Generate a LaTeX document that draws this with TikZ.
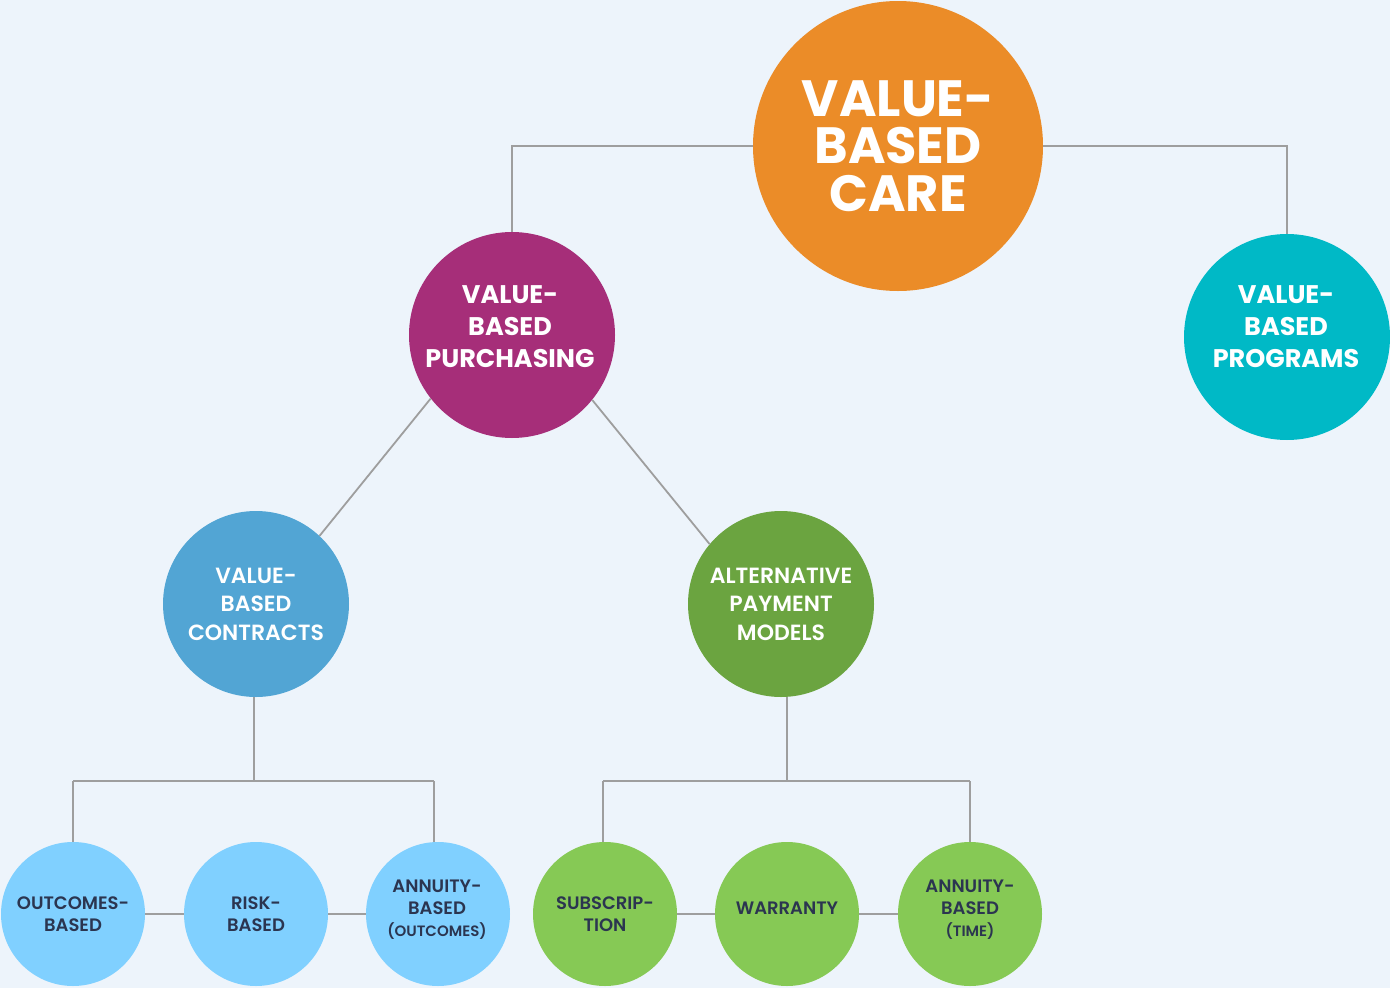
\documentclass[tikz,border=0pt]{standalone}
\usepackage{fontspec}
\setmainfont{Poppins}
\newfontfamily\semibold{Poppins SemiBold}
\begin{document}
\definecolor{bgcol}{HTML}{EDF4FB}
\definecolor{orangec}{HTML}{EB8C28}
\definecolor{purplec}{HTML}{A62E79}
\definecolor{tealc}{HTML}{00B9C6}
\definecolor{bluec}{HTML}{52A5D4}
\definecolor{greenc}{HTML}{6BA440}
\definecolor{lbluec}{HTML}{80D0FF}
\definecolor{lgreenc}{HTML}{86C955}
\definecolor{darktext}{HTML}{2B3550}
\definecolor{linec}{HTML}{9E9E9E}
\begin{tikzpicture}[x=1pt,y=-1pt,
  bubble/.style={circle,inner sep=0pt,align=center,font=\bfseries},
  caption/.style={inner sep=0pt,align=center},
  toplevel/.style={bubble,fill=orangec,minimum size=290pt,text=white,
    font=\bfseries\fontsize{51}{47.5}\selectfont},
  midlevel/.style={bubble,minimum size=206pt},
  midtext/.style={caption,text=white,font=\bfseries\fontsize{25.5}{32}\selectfont},
  lowlevel/.style={bubble,minimum size=186pt,text=white,
    font=\semibold\fontsize{22}{28.5}\selectfont},
  leaf/.style={bubble,minimum size=144pt,text=darktext,
    font=\semibold\fontsize{18}{22}\selectfont},
  leaftext/.style={caption,text=darktext,font=\semibold\fontsize{18}{22}\selectfont},
  link/.style={draw=linec,line width=1.8pt}]
\fill[bgcol] (0,0) rectangle (1390,988);
\useasboundingbox (0,0) rectangle (1390,988);

% hierarchy nodes
\node[toplevel] (vbc) at (898,146) {VALUE-\\BASED\\CARE};
\node[midlevel,fill=purplec] (vbp) at (512,335) {};
\node[midtext] (vbp-t) at (510,327) {VALUE-\\BASED\\PURCHASING};
\node[midlevel,fill=tealc] (vbpr) at (1287,337) {};
\node[midtext] (vbpr-t) at (1286,327) {VALUE-\\BASED\\PROGRAMS};
\node[lowlevel,fill=bluec] (vbcon) at (256,604) {VALUE-\\BASED\\CONTRACTS};
\node[lowlevel,fill=greenc] (apm) at (781,604) {ALTERNATIVE\\PAYMENT\\MODELS};

\node[leaf,fill=lbluec] (outc) at (73,914) {OUTCOMES-\\BASED};
\node[leaf,fill=lbluec] (risk) at (256,914) {RISK-\\BASED};
\node[leaf,fill=lbluec] (annout) at (438,914) {};
\node[leaftext] (annout-t) at (437,910)
  {ANNUITY-\\BASED\\{\fontsize{15}{22}\selectfont(OUTCOMES)}};
\node[leaf,fill=lgreenc] (subs) at (605,914) {SUBSCRIP-\\TION};
\node[leaf,fill=lgreenc] (warr) at (787,914) {};
\node[leaftext] (warr-t) at (787,908) {WARRANTY};
\node[leaf,fill=lgreenc] (anntime) at (970,914) {};
\node[leaftext] (anntime-t) at (970,910)
  {ANNUITY-\\BASED\\{\fontsize{15}{22}\selectfont(TIME)}};

% connectors
\draw[link] (vbc.west) -| (vbp.north);
\draw[link] (vbc.east) -| (vbpr.north);
\draw[link] (vbp.218) -- (vbcon.47);
\draw[link] (vbp.321) -- (apm.140);
\coordinate (conj) at (254,781);
\coordinate (apmj) at (787,781);
\draw[link] (vbcon.south -| conj) -- (conj);
\draw[link] (73,781) coordinate (cl) -- (434,781) coordinate (cr);
\draw[link] (cl) -- (outc.north);
\draw[link] (cr) -- (cr |- annout.north);
\draw[link] (apm.south -| apmj) -- (apmj);
\draw[link] (603,781) coordinate (al) -- (970,781) coordinate (ar);
\draw[link] (al) -- (al |- subs.north);
\draw[link] (ar) -- (anntime.north);
\draw[link] (outc.east) -- (risk.west);
\draw[link] (risk.east) -- (annout.west);
\draw[link] (subs.east) -- (warr.west);
\draw[link] (warr.east) -- (anntime.west);
\end{tikzpicture}
\end{document}
